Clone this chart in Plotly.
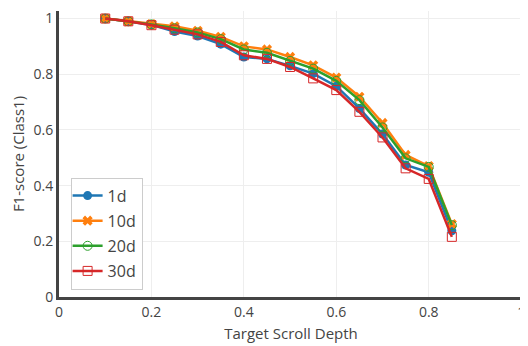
import plotly.graph_objects as go

depth = [0.1, 0.15, 0.2, 0.25, 0.3, 0.35, 0.4, 0.45, 0.5, 0.55, 0.6, 0.65, 0.7, 0.75, 0.8, 0.85]
f1_1d = [1.0, 0.99, 0.977, 0.953, 0.937, 0.908, 0.862, 0.855, 0.83, 0.802, 0.757, 0.677, 0.585, 0.474, 0.448, 0.238]
f1_10d = [1.0, 0.99, 0.98, 0.972, 0.956, 0.934, 0.90, 0.889, 0.862, 0.832, 0.788, 0.719, 0.625, 0.51, 0.47, 0.262]
f1_20d = [1.0, 0.99, 0.979, 0.965, 0.95, 0.926, 0.889, 0.877, 0.848, 0.82, 0.776, 0.707, 0.609, 0.498, 0.467, 0.258]
f1_30d = [1.0, 0.99, 0.976, 0.96, 0.943, 0.916, 0.868, 0.855, 0.826, 0.785, 0.743, 0.665, 0.573, 0.462, 0.424, 0.216]

series = [
    ("1d", f1_1d, "#1f77b4", "circle"),
    ("10d", f1_10d, "#ff7f0e", "x"),
    ("20d", f1_20d, "#2ca02c", "circle-open"),
    ("30d", f1_30d, "#d62728", "square-open"),
]

fig = go.Figure()
for name, ys, color, sym in series:
    fig.add_trace(go.Scatter(
        x=depth, y=ys, name=name, mode="lines+markers", legendgroup=name,
        line=dict(color=color, width=2.5),
        marker=dict(symbol=sym, size=9, color=color),
    ))

fig.update_layout(
    template="none",
    width=528, height=346,
    margin=dict(l=51, r=13, t=3, b=57),
    paper_bgcolor="white", plot_bgcolor="white",
    font=dict(family="Open Sans", color="#444", size=14),
    legend=dict(x=0.025, y=0.0255, xanchor="left", yanchor="bottom",
                bordercolor="#ccc", borderwidth=1, bgcolor="white",
                traceorder="grouped", tracegroupgap=1.3, indentation=-4,
                font=dict(size=16)),
    xaxis=dict(range=[0, 1.004], tickvals=[0, 0.2, 0.4, 0.6, 0.8, 1],
               ticktext=["0", "0.2", "0.4", "0.6", "0.8", "1"],
               showgrid=True, gridcolor="#eee", zeroline=False, ticks="",
               showline=True, linecolor="#444", linewidth=3, automargin=False,
               title=dict(text="Target Scroll Depth", font=dict(size=15), standoff=9)),
    yaxis=dict(range=[0, 1.027], tickvals=[0, 0.2, 0.4, 0.6, 0.8, 1],
               ticktext=["0", "0.2", "0.4", "0.6", "0.8", "1"],
               showgrid=True, gridcolor="#eee", zeroline=False, ticks="",
               showline=True, linecolor="#444", linewidth=3, automargin=False,
               title=dict(text="F1-score (Class1)", font=dict(size=15), standoff=6)),
)

fig.write_html("out.html")
